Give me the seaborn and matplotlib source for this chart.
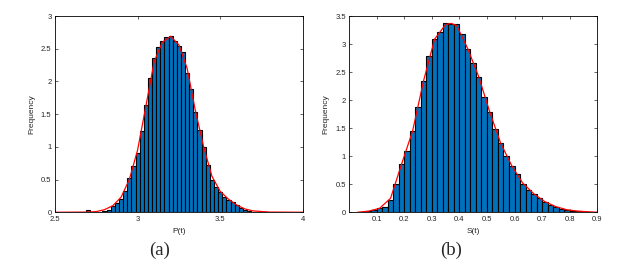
import numpy as np
import pandas as pd
import matplotlib
matplotlib.use("Agg")
import matplotlib.pyplot as plt
import seaborn as sns

# (a) P(t): bin centres (width 0.025) and bar heights
p_centers = [2.7, 2.8, 2.825, 2.85, 2.875, 2.9, 2.925, 2.95, 2.975, 3.0, 3.025,
             3.05, 3.075, 3.1, 3.125, 3.15, 3.175, 3.2, 3.225, 3.25, 3.275, 3.3,
             3.325, 3.35, 3.375, 3.4, 3.425, 3.45, 3.475, 3.5, 3.525, 3.55, 3.575,
             3.6, 3.625, 3.65, 3.675, 3.7]
p_heights = [0.04, 0.015, 0.04, 0.09, 0.14, 0.21, 0.33, 0.52, 0.71, 0.91, 1.24,
             1.64, 2.06, 2.36, 2.52, 2.62, 2.68, 2.69, 2.62, 2.55, 2.45, 2.13,
             1.88, 1.54, 1.26, 1.00, 0.72, 0.50, 0.38, 0.31, 0.24, 0.19, 0.15,
             0.11, 0.07, 0.04, 0.02, 0.01]
# fitted density (red curve) for (a)
p_curve_x = [2.5, 2.7, 2.75, 2.8, 2.85, 2.9, 2.95, 3.0, 3.05, 3.1, 3.15, 3.2,
             3.25, 3.3, 3.35, 3.4, 3.45, 3.5, 3.55, 3.6, 3.65, 3.7, 3.8, 4.0]
p_curve_y = [0.0, 0.003, 0.01, 0.04, 0.1, 0.23, 0.5, 0.95, 1.62, 2.3, 2.6, 2.69,
             2.56, 2.2, 1.55, 1.0, 0.55, 0.32, 0.2, 0.11, 0.05, 0.02, 0.003, 0.0]

# (b) S(t): bin centres (width 0.02) and bar heights
s_centers = [0.05, 0.07, 0.09, 0.11, 0.13, 0.15, 0.17, 0.19, 0.21, 0.23, 0.25,
             0.27, 0.29, 0.31, 0.33, 0.35, 0.37, 0.39, 0.41, 0.43, 0.45, 0.47,
             0.49, 0.51, 0.53, 0.55, 0.57, 0.59, 0.61, 0.63, 0.65, 0.67, 0.69,
             0.71, 0.73, 0.75, 0.77, 0.79, 0.81, 0.83, 0.85, 0.87, 0.89]
s_heights = [0.01, 0.02, 0.04, 0.07, 0.10, 0.22, 0.51, 0.86, 1.09, 1.45, 1.87,
             2.35, 2.78, 3.09, 3.22, 3.37, 3.36, 3.35, 3.18, 2.92, 2.67, 2.42,
             2.05, 1.79, 1.48, 1.23, 1.00, 0.83, 0.68, 0.50, 0.40, 0.33, 0.25,
             0.19, 0.13, 0.10, 0.065, 0.045, 0.03, 0.02, 0.013, 0.008, 0.005]
s_curve_x = [0.03, 0.07, 0.11, 0.15, 0.19, 0.23, 0.27, 0.31, 0.35, 0.37, 0.39,
             0.43, 0.47, 0.51, 0.55, 0.59, 0.63, 0.67, 0.71, 0.75, 0.79, 0.83, 0.9]
s_curve_y = [0.0, 0.02, 0.07, 0.25, 0.86, 1.45, 2.35, 3.09, 3.35, 3.37, 3.33,
             2.92, 2.42, 1.79, 1.23, 0.83, 0.52, 0.33, 0.19, 0.1, 0.045, 0.02, 0.0]

sns.set_style("white")
plt.rcParams["font.family"] = ["Liberation Sans", "DejaVu Sans"]
plt.rcParams["font.serif"] = ["Liberation Serif", "DejaVu Serif"]

fig = plt.figure(figsize=(6.29, 2.68), dpi=100)
ax1 = fig.add_axes([0.0874, 0.208, 0.394, 0.732])
ax2 = fig.add_axes([0.5553, 0.208, 0.394, 0.732])

blue = "#0072BD"

def panel(ax, centers, heights, width, cx, cy, xlim, ylim, xticks, yticks, xlabel):
    df = pd.DataFrame({"v": centers, "h": heights})
    n = int(round((max(centers) - min(centers)) / width)) + 1
    edges = [min(centers) - width / 2 + k * width for k in range(n + 1)]
    sns.histplot(data=df, x="v", weights="h", bins=edges, ax=ax, color=blue,
                 edgecolor="black", linewidth=0.8, alpha=1.0)
    sns.lineplot(x=cx, y=cy, ax=ax, color="red", linewidth=0.9)
    ax.set_xlim(*xlim)
    ax.set_ylim(*ylim)
    ax.set_xticks(xticks)
    ax.set_yticks(yticks)
    ax.set_xticklabels([f"{t:g}" for t in xticks])
    ax.set_yticklabels([f"{t:g}" for t in yticks])
    ax.set_xlabel(xlabel, fontsize=6, labelpad=4)
    ax.set_ylabel("Frequency", fontsize=6, labelpad=4)
    ax.tick_params(direction="in", length=2, width=0.5, labelsize=5.5, pad=2.5,
                   top=True, right=True, bottom=True, left=True)
    for s in ax.spines.values():
        s.set_visible(True)
        s.set_color("black")
        s.set_linewidth(0.6)

panel(ax1, p_centers, p_heights, 0.025, p_curve_x, p_curve_y, (2.5, 4.0), (0, 3),
      [2.5, 3, 3.5, 4], [0, 0.5, 1, 1.5, 2, 2.5, 3], "P(t)")
panel(ax2, s_centers, s_heights, 0.02, s_curve_x, s_curve_y, (0, 0.9), (0, 3.5),
      [0.1, 0.2, 0.3, 0.4, 0.5, 0.6, 0.7, 0.8, 0.9],
      [0, 0.5, 1, 1.5, 2, 2.5, 3, 3.5], "S(t)")

fig.text(160 / 629, 1 - 250 / 268, "(a)", ha="center", va="center", fontsize=13.5,
         family="serif")
fig.text(451 / 629, 1 - 250 / 268, "(b)", ha="center", va="center", fontsize=13.5,
         family="serif")

fig.savefig("out.png", dpi=100, facecolor="white")
